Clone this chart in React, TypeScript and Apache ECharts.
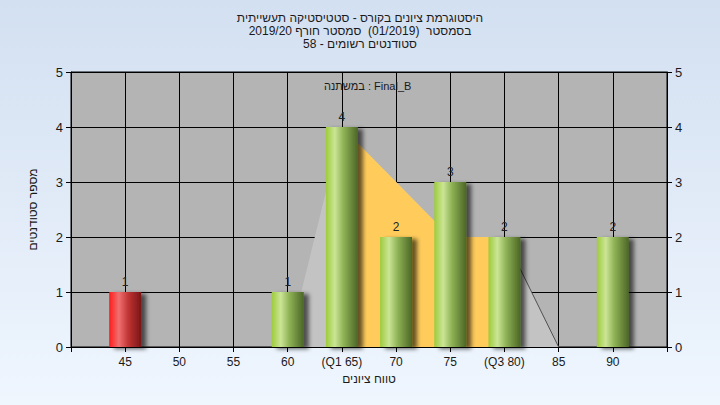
import React, { useEffect, useRef } from "react";
import * as echarts from "echarts";

const titleLines = [
  "היסטוגרמת ציונים בקורס - סטטיסטיקה תעשייתית",
  "בסמסטר  (01/2019)  סמסטר חורף 2019/20",
  "סטודנטים רשומים - 58",
];
const variableLabel = "במשתנה : Final_B";
const xAxisName = "טווח ציונים";
const yAxisName = "מספר סטודנטים";

const barX = [45, 60, 65, 70, 75, 80, 90];
const barCounts = [1, 1, 4, 2, 3, 2, 2];
const barIsLow = [true, false, false, false, false, false, false];

const polygonX = [60, 65, 75, 80, 85];
const polygonY = [0, 4, 2, 2, 0];
const iqrX = [65, 75, 80];
const iqrY = [4, 2, 2];
const edgeX = [80, 85];
const edgeY = [2, 0];

const specialTickLabels: Record<number, string> = { 65: "(Q1 65)", 80: "(Q3 80)" };
const hiddenTicks = [40, 95];

const FONT = "'Liberation Sans', 'DejaVu Sans', Arial, sans-serif";

const greenGrad = new echarts.graphic.LinearGradient(0, 0, 1, 0, [
  { offset: 0, color: "#9dcb3c" },
  { offset: 0.28, color: "#cbe596" },
  { offset: 0.55, color: "#8fb255" },
  { offset: 1, color: "#4b6626" },
]);
const redGrad = new echarts.graphic.LinearGradient(0, 0, 1, 0, [
  { offset: 0, color: "#ff1c1c" },
  { offset: 0.3, color: "#f07070" },
  { offset: 0.6, color: "#c03434" },
  { offset: 1, color: "#7a1414" },
]);

export default function App() {
  const ref = useRef<HTMLDivElement>(null);
  useEffect(() => {
    if (!ref.current) return;
    const chart = echarts.init(ref.current, undefined, { renderer: "svg" });
    const pair = (xs: number[], ys: number[]) => xs.map((x, i) => [x, ys[i]]);
    chart.setOption({
      animation: false,
      backgroundColor: new echarts.graphic.LinearGradient(0, 0, 0, 1, [
        { offset: 0, color: "#d3e0f1" },
        { offset: 1, color: "#eff6fe" },
      ]),
      textStyle: { fontFamily: FONT },
      title: {
        text: titleLines.join("\n"),
        left: "center",
        top: 11,
        padding: 0,
        textStyle: {
          fontFamily: FONT,
          fontSize: 12,
          fontWeight: "normal",
          color: "#1a1a1a",
          lineHeight: 13,
        },
      },
      graphic: [
        {
          type: "text",
          left: 324,
          top: 80,
          z: 100,
          style: {
            text: variableLabel,
            fontFamily: FONT,
            fontSize: 11,
            fill: "#1a1a1a",
          },
        },
      ],
      grid: {
        left: 71,
        right: 53,
        top: 72,
        bottom: 58,
        show: true,
        backgroundColor: "#b4b4b4",
        borderColor: "#000",
        borderWidth: 1,
      },
      xAxis: {
        type: "value",
        min: 40,
        max: 95,
        interval: 5,
        name: xAxisName,
        nameLocation: "middle",
        nameGap: 26,
        nameTextStyle: { fontFamily: FONT, fontSize: 12, color: "#1a1a1a" },
        axisLine: { show: true, lineStyle: { color: "#000" } },
        axisTick: { show: true, length: 5, lineStyle: { color: "#000" } },
        axisLabel: {
          margin: 9,
          fontFamily: FONT,
          fontSize: 12,
          color: "#1a1a1a",
          formatter: (v: number) =>
            hiddenTicks.includes(v) ? "" : specialTickLabels[v] ?? String(v),
        },
        splitLine: { show: true, lineStyle: { color: "#000", width: 1 } },
      },
      yAxis: [
        {
          type: "value",
          min: 0,
          max: 5,
          interval: 1,
          position: "left",
          name: yAxisName,
          nameLocation: "middle",
          nameGap: 32,
          nameRotate: 90,
          nameTextStyle: { fontFamily: FONT, fontSize: 12, color: "#1a1a1a" },
          axisLine: { show: true, lineStyle: { color: "#000" } },
          axisTick: { show: true, length: 5, lineStyle: { color: "#000" } },
          axisLabel: { margin: 8, fontFamily: FONT, fontSize: 13, color: "#1a1a1a" },
          splitLine: { show: true, lineStyle: { color: "#000", width: 1 } },
        },
        {
          type: "value",
          min: 0,
          max: 5,
          interval: 1,
          position: "right",
          axisLine: { show: true, lineStyle: { color: "#000" } },
          axisTick: { show: true, length: 5, lineStyle: { color: "#000" } },
          axisLabel: { margin: 8, fontFamily: FONT, fontSize: 13, color: "#1a1a1a" },
          splitLine: { show: false },
        },
      ],
      series: [
        {
          type: "line",
          data: pair(polygonX, polygonY),
          symbol: "none",
          lineStyle: { width: 0 },
          areaStyle: { color: "#c3c3c3", opacity: 1 },
          z: 1,
        },
        {
          type: "line",
          data: pair(edgeX, edgeY),
          symbol: "none",
          lineStyle: { width: 1, color: "#505050" },
          z: 2,
        },
        {
          type: "line",
          data: pair(iqrX, iqrY),
          symbol: "none",
          lineStyle: { width: 0 },
          areaStyle: { color: "#ffcc5c", opacity: 1 },
          z: 3,
        },
        {
          type: "bar",
          barWidth: 32,
          z: 5,
          data: barX.map((x, i) => ({
            value: [x, barCounts[i]],
            itemStyle: {
              color: barIsLow[i] ? redGrad : greenGrad,
              shadowColor: "rgba(0,0,0,0.6)",
              shadowBlur: 4,
              shadowOffsetX: 5,
              shadowOffsetY: 2,
            },
          })),
          label: {
            show: true,
            position: "top",
            distance: 4,
            fontFamily: FONT,
            fontSize: 12,
            color: "#222",
            formatter: (p: any) => String(p.value[1]),
          },
        },
      ],
    });
    return () => chart.dispose();
  }, []);
  return (
    <div
      ref={ref}
      style={{ position: "fixed", left: 0, top: 0, width: 720, height: 405 }}
    />
  );
}
